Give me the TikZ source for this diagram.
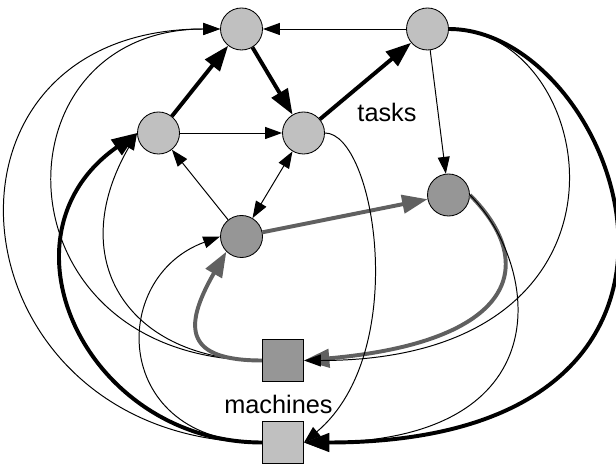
\documentclass[tikz,border=0pt]{standalone}
\usepackage{fontspec}
\setmainfont{Liberation Sans}
\usetikzlibrary{arrows.meta}
\definecolor{taskfill}{RGB}{192,192,192}
\definecolor{busyfill}{RGB}{150,150,150}
\definecolor{busyline}{RGB}{96,96,96}
\tikzset{%
  task/.style     = {shape=circle, draw, line width=0.6pt,%
                     fill=taskfill, minimum size=1.05cm, inner sep=0pt},%
  busytask/.style = {task, fill=busyfill},%
  machine/.style  = {shape=rectangle, draw, line width=0.6pt,%
                     fill=taskfill, minimum size=1.03cm, inner sep=0pt},%
  busymach/.style = {machine, fill=busyfill},%
  lnk/.style      = {line width=0.7pt, -{Triangle[length=12pt,width=8.5pt]}},%
  lnkboth/.style  = {line width=0.7pt,%
                     {Triangle[length=12pt,width=8.5pt]}-{Triangle[length=12pt,width=8.5pt]}},%
  heavy/.style    = {line width=2.8pt, -{Triangle[length=18pt,width=13pt]}},%
  grayheavy/.style= {heavy, draw=busyline},%
  lbl/.style      = {font=\fontsize{18}{22}\selectfont, anchor=base}%
}
\begin{document}
\begin{tikzpicture}
              [x=0.025cm, y=0.025cm]
              \useasboundingbox (0,0) rectangle (616,466);
              % -------------- TASKS -----------------------------
              \node [task] (T1) at (241.5,437) {};
              \node [task] (T2) at (427.5,437) {};
              \node [task] (T3) at (158.5,333) {};
              \node [task] (T4) at (303.5,333) {};
              \node [busytask] (T5) at (241.5,229.5) {};
              \node [busytask] (T6) at (448.5,271) {};
              \node [lbl] (tasks) at (387,344) {tasks};
              % -------------- MACHINES -----------------------------
              \node [busymach] (M1) at (283,105.5) {};
              \node [machine] (M2) at (283,23.5) {};
              \node [lbl] (machines) at (278.5,53) {machines};
              % -------------- PRECEDENCES -----------------------------
              \draw[heavy] (T3) -- (T1);
              \draw[heavy] (T1) -- (T4);
              \draw[heavy] (T4) -- (T2);
              \draw[lnk] (T2) -- (T1);
              \draw[lnk] (T3) -- (T4);
              \draw[lnk] (T5) -- (T3);
              \draw[lnkboth] (T4) -- (T5);
              \draw[lnk] (T2) -- (T6);
              \draw[grayheavy] (T5) -- (T6);
              % -------------- MACHINE TO TASK -----------------------------
              \draw[lnk] (M2.west) .. controls +(180:312) and +(180:312) .. (T1.west);
              \draw[lnk] (M1.west) .. controls +(180:270) and +(180:230) .. (T1.west);
              \draw[lnk] (M1.west) .. controls +(180:130) and +(240:150) .. (T3.west);
              \draw[heavy] (M2.west) .. controls +(180:175) and +(215:180) .. (T3.west);
              \draw[lnk] (M2.west) .. controls +(180:150) and +(200:120) .. (T5.west);
              \draw[grayheavy] (M1.west) .. controls +(180:75) and +(240:90) .. (T5.south west);
              % -------------- TASK TO MACHINE -----------------------------
              \draw[grayheavy] (T6.east) .. controls +(-45:100) and +(5:210) .. (M1.east);
              \draw[lnk] (T6.east) .. controls +(-45:100) and +(0:260) .. (M2.east);
              \draw[lnk] (T2.east) .. controls +(0:150) and +(0:357) .. (M1.east);
              \draw[heavy] (T2.east) .. controls +(0:170) and +(0:467) .. (M2.east);
              \draw[lnk] (T4.east) .. controls +(0:50) and +(40:140) .. (M2.east);
\end{tikzpicture}
\end{document}
